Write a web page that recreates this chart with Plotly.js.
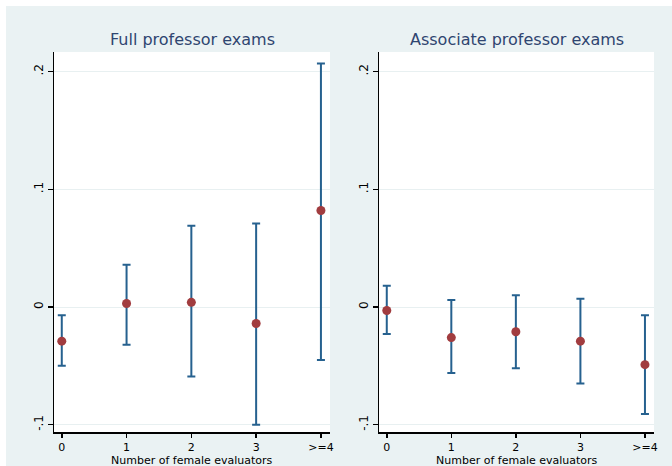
<!DOCTYPE html>
<html>
<head>
<meta charset="utf-8">
<script src="https://cdn.plot.ly/plotly-3.0.1.min.js"></script>
<style>
html,body{margin:0;padding:0;background:#ffffff;}
#chart{position:absolute;left:6px;top:6px;width:666px;height:460px;}
</style>
</head>
<body>
<div id="chart"></div>
<script>
// Categories and tick labels
const categories = ['0', '1', '2', '3', '>=4'];
const yTickVals = [-0.1, 0, 0.1, 0.2];
const yTickText = ['-.1', '0', '.1', '.2'];

// Full professor exams: point estimates and confidence bounds
const fullEst = [-0.029, 0.003, 0.004, -0.014, 0.082];
const fullLo  = [-0.050, -0.032, -0.059, -0.100, -0.045];
const fullHi  = [-0.007, 0.036, 0.069, 0.071, 0.207];

// Associate professor exams
const assocEst = [-0.003, -0.026, -0.021, -0.029, -0.049];
const assocLo  = [-0.023, -0.056, -0.052, -0.065, -0.091];
const assocHi  = [0.018, 0.006, 0.010, 0.007, -0.007];

const barColor = '#26618f';
const dotColor = '#a13c3f';
const font = 'DejaVu Sans, sans-serif';

function trace(est, lo, hi, xa, ya) {
  return {
    type: 'scatter', mode: 'markers',
    x: categories, y: est, xaxis: xa, yaxis: ya,
    marker: {color: dotColor, size: 9},
    error_y: {
      type: 'data', symmetric: false,
      array: hi.map((h, i) => h - est[i]),
      arrayminus: lo.map((l, i) => est[i] - l),
      color: barColor, thickness: 2, width: 4
    },
    hoverinfo: 'none', showlegend: false
  };
}

const xBase = {
  type: 'category', range: [-0.12, 4.14], showgrid: false, zeroline: false,
  showline: true, linecolor: '#000', linewidth: 1.5, mirror: false,
  ticks: 'outside', ticklen: 4, tickwidth: 1.5, tickcolor: '#000',
  ticklabelstandoff: 0,
  tickfont: {family: font, size: 11, color: '#000'},
  fixedrange: true
};
const yBase = {
  range: [-0.1062, 0.2167], tickvals: yTickVals, ticktext: yTickText,
  showgrid: true, gridcolor: '#e8f0f1', gridwidth: 1, zeroline: false,
  showline: true, linecolor: '#000', linewidth: 1.5,
  ticks: 'outside', ticklen: 5, tickwidth: 1.5, tickcolor: '#000',
  tickangle: -90, tickfont: {family: font, size: 12, color: '#000'},
  fixedrange: true
};

function panelTitle(text, xref) {
  return {text: text, xref: xref, yref: 'paper', x: 0.5, y: 1, yshift: 1,
    xanchor: 'center', yanchor: 'bottom', showarrow: false,
    font: {family: font, size: 16, color: '#2f4570'}};
}
function axisTitle(xref) {
  return {text: 'Number of female evaluators', xref: xref, yref: 'paper', x: 0.5, y: 0, yshift: -28,
    xanchor: 'center', yanchor: 'middle', showarrow: false, borderpad: 0,
    font: {family: font, size: 11, color: '#000'}};
}

const layout = {
  width: 666, height: 460,
  margin: {l: 48, r: 18, t: 46, b: 34, pad: 0},
  paper_bgcolor: '#eaf2f3', plot_bgcolor: '#ffffff',
  font: {family: font},
  xaxis: Object.assign({}, xBase, {domain: [0, 0.46], anchor: 'y'}),
  yaxis: Object.assign({}, yBase, {anchor: 'x'}),
  xaxis2: Object.assign({}, xBase, {domain: [0.5417, 1], anchor: 'y2'}),
  yaxis2: Object.assign({}, yBase, {anchor: 'x2'}),
  annotations: [
    panelTitle('Full professor exams', 'x domain'),
    panelTitle('Associate professor exams', 'x2 domain'),
    axisTitle('x domain'),
    axisTitle('x2 domain')
  ]
};

Plotly.newPlot('chart', [
  trace(fullEst, fullLo, fullHi, 'x', 'y'),
  trace(assocEst, assocLo, assocHi, 'x2', 'y2')
], layout, {displayModeBar: false, staticPlot: true});
</script>
</body>
</html>
